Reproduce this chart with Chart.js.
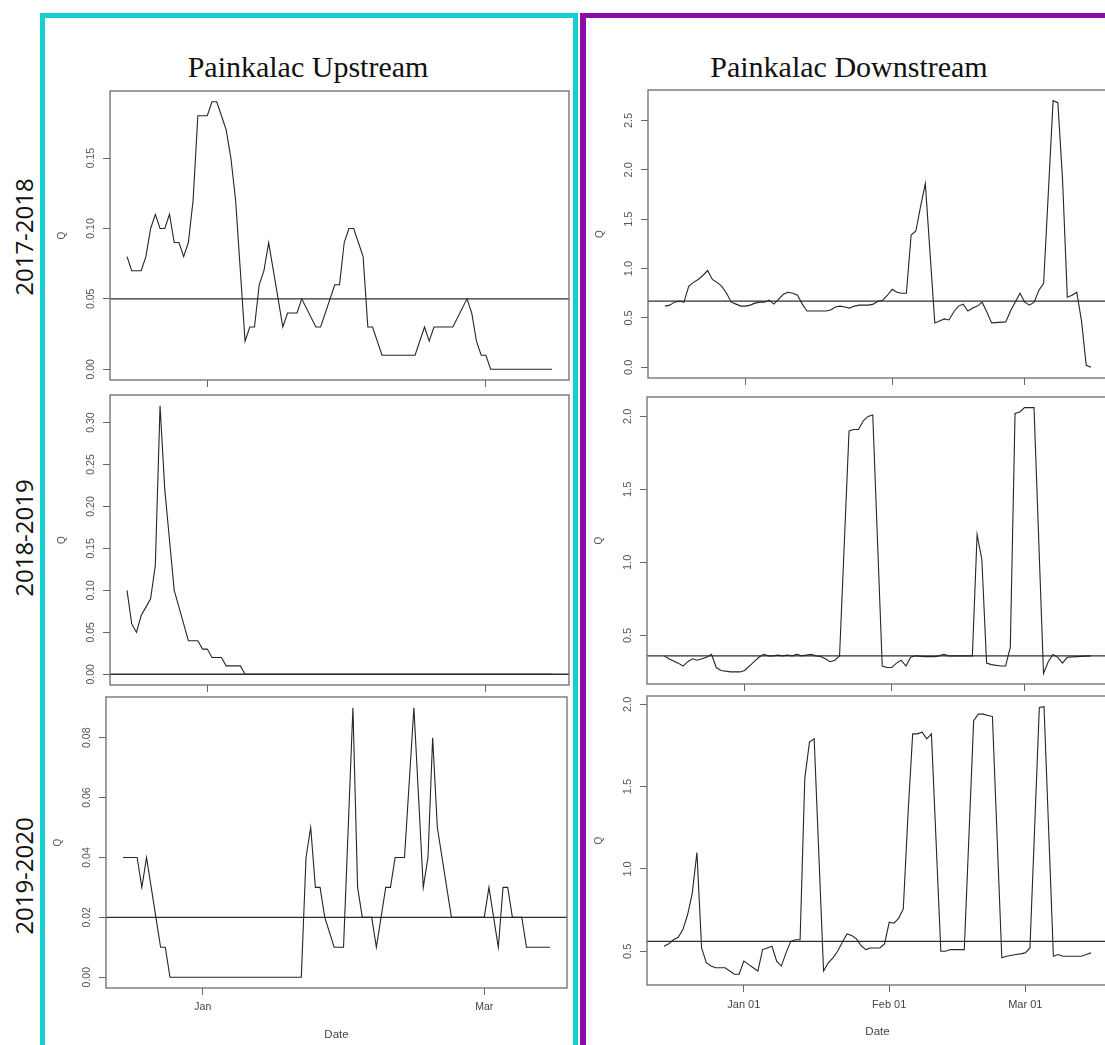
<!DOCTYPE html>
<html>
<head>
<meta charset="utf-8">
<title>Painkalac flow 2017-2020</title>
<script src="https://cdn.jsdelivr.net/npm/chart.js@4.4.1/dist/chart.umd.min.js"></script>
<style>
  html, body { margin: 0; padding: 0; background: #fff; }
  body { width: 1105px; height: 1045px; overflow: hidden; position: relative; }
  .frame { position: absolute; box-sizing: border-box; }
  #frameUp { left: 40px; top: 13px; width: 538px; height: 1100px; border: 5px solid #17cfd0; }
  #frameDown { left: 580px; top: 13px; width: 620px; height: 1100px; border: 6px solid #8b0fa6; border-top-width: 5px; }
  .site { position: absolute; top: 52px; width: 400px; text-align: center;
          font-family: 'Liberation Serif', 'DejaVu Serif', serif; font-size: 30px; line-height: 30px; color: #111; white-space: nowrap; }
  .season { position: absolute; width: 160px; height: 30px; line-height: 30px; text-align: center;
            font-family: 'Open Sans', 'Noto Sans', sans-serif; font-size: 24px; color: #111; transform: rotate(-90deg); }
  canvas { position: absolute; }
</style>
</head>
<body>
<div id="frameUp" class="frame"></div>
<div id="frameDown" class="frame"></div>
<script>
// ---- labels ----
const sites = ['Painkalac Upstream', 'Painkalac Downstream'];
const seasons = ['2017-2018', '2018-2019', '2019-2020'];

// ---- x axis ticks (days counted from 1 January of the season's second year) ----
const upTickLabels = ['Jan', 'Mar'];
const upTickDays = [[0, 59], [0, 59], [0, 60]];
const downTickLabels = ['Jan 01', 'Feb 01', 'Mar 01'];
const downTickDays = [[0, 31, 59], [0, 31, 59], [0, 31, 60]];

// ---- y axis ticks ----
const upYTicks = [
  [0, 0.05, 0.10, 0.15],
  [0, 0.05, 0.10, 0.15, 0.20, 0.25, 0.30],
  [0, 0.02, 0.04, 0.06, 0.08]
];
const downYTicks = [
  [0, 0.5, 1.0, 1.5, 2.0, 2.5],
  [0.5, 1.0, 1.5, 2.0],
  [0.5, 1.0, 1.5, 2.0]
];

// ---- horizontal reference flow (Q) per panel ----
const upThreshold = [0.05, 0.00, 0.02];
const downThreshold = [0.67, 0.36, 0.56];

// ---- discharge Q, upstream ----
const up1718Day = [-17,-16,-14,-13,-12,-11,-10,-9,-8,-7,-6,-5,-4,-3,-2,0,1,2,3,4,5,6,7,8,9,10,11,12,13,14,15,16,17,19,20,23,24,27,28,29,30,31,32,33,34,35,36,37,44,46,47,48,52,55,56,57,58,59,60,73];
const up1718Q = [0.08,0.07,0.07,0.08,0.10,0.11,0.10,0.10,0.11,0.09,0.09,0.08,0.09,0.12,0.18,0.18,0.19,0.19,0.18,0.17,0.15,0.12,0.07,0.02,0.03,0.03,0.06,0.07,0.09,0.07,0.05,0.03,0.04,0.04,0.05,0.03,0.03,0.06,0.06,0.09,0.10,0.10,0.09,0.08,0.03,0.03,0.02,0.01,0.01,0.03,0.02,0.03,0.03,0.05,0.04,0.02,0.01,0.01,0.00,0.00];

const up1819Day = [-17,-16,-15,-14,-13,-12,-11,-10,-9,-8,-7,-6,-5,-4,-2,-1,0,1,3,4,7,8,73];
const up1819Q = [0.10,0.06,0.05,0.07,0.08,0.09,0.13,0.32,0.22,0.16,0.10,0.08,0.06,0.04,0.04,0.03,0.03,0.02,0.02,0.01,0.01,0.00,0.00];

const up1920Day = [-17,-14,-13,-12,-11,-10,-9,-8,-7,21,22,23,24,25,26,28,30,32,33,34,36,37,38,39,40,41,43,45,47,48,49,50,53,60,61,63,64,65,66,68,69,74];
const up1920Q = [0.04,0.04,0.03,0.04,0.03,0.02,0.01,0.01,0.00,0.00,0.04,0.05,0.03,0.03,0.02,0.01,0.01,0.09,0.03,0.02,0.02,0.01,0.02,0.03,0.03,0.04,0.04,0.09,0.03,0.04,0.08,0.05,0.02,0.02,0.03,0.01,0.03,0.03,0.02,0.02,0.01,0.01];

// ---- discharge Q, downstream ----
const down1718Day = [-17,-16,-15,-14,-13,-12,-11,-10,-9,-8,-7,-6,-5,-4,-3,-2,-1,0,1,2,3,4,5,6,7,8,9,10,11,12,13,17,18,19,20,21,22,23,24,26,27,28,29,30,31,32,33,34,35,36,37,38,40,41,42,43,44,45,46,47,48,49,50,51,52,55,56,58,59,60,61,62,63,65,66,67,68,69,70,71,72,73];
const down1718Q = [0.62,0.63,0.66,0.67,0.66,0.82,0.86,0.89,0.93,0.98,0.89,0.86,0.82,0.75,0.66,0.64,0.62,0.62,0.63,0.65,0.66,0.66,0.68,0.64,0.69,0.74,0.76,0.75,0.73,0.64,0.57,0.57,0.58,0.61,0.62,0.61,0.60,0.62,0.63,0.63,0.64,0.67,0.68,0.73,0.79,0.76,0.75,0.75,1.34,1.38,1.63,1.86,0.45,0.47,0.49,0.48,0.56,0.62,0.64,0.57,0.60,0.62,0.66,0.56,0.45,0.46,0.57,0.75,0.66,0.63,0.66,0.78,0.85,2.70,2.68,1.90,0.71,0.73,0.76,0.47,0.02,0.00];

const down1819Day = [-17,-16,-14,-13,-12,-11,-10,-9,-8,-7,-6,-5,-3,-1,0,2,3,4,5,6,7,8,9,10,11,12,13,14,15,16,17,18,19,20,22,23,24,25,26,27,29,30,31,32,33,34,35,36,38,40,41,42,43,48,49,50,51,52,54,55,56,57,58,59,61,63,64,65,66,67,68,70,73];
const down1819Q = [0.36,0.34,0.31,0.29,0.32,0.34,0.33,0.34,0.35,0.37,0.28,0.26,0.25,0.25,0.26,0.32,0.35,0.37,0.36,0.36,0.365,0.36,0.365,0.36,0.37,0.36,0.365,0.37,0.36,0.355,0.34,0.32,0.33,0.36,1.90,1.91,1.91,1.97,2.00,2.01,0.29,0.28,0.28,0.31,0.33,0.29,0.35,0.36,0.355,0.355,0.36,0.37,0.36,0.36,1.19,1.02,0.31,0.30,0.29,0.29,0.42,2.02,2.03,2.06,2.06,0.24,0.32,0.37,0.35,0.31,0.35,0.355,0.36];

const down1920Day = [-17,-16,-15,-14,-13,-12,-11,-10,-9,-8,-7,-6,-4,-3,-2,-1,0,1,2,3,4,5,6,7,8,9,10,11,12,13,14,15,17,18,19,20,21,22,23,24,25,26,27,29,30,31,32,33,34,35,36,37,38,39,40,42,43,44,47,49,50,51,53,55,56,58,59,60,61,63,64,66,67,68,72,73,74];
const down1920Q = [0.53,0.545,0.57,0.585,0.63,0.72,0.85,1.10,0.52,0.43,0.41,0.40,0.40,0.38,0.36,0.36,0.44,0.42,0.40,0.38,0.51,0.52,0.53,0.44,0.41,0.49,0.56,0.57,0.57,1.55,1.77,1.79,0.38,0.43,0.46,0.50,0.555,0.605,0.595,0.575,0.534,0.51,0.52,0.52,0.545,0.676,0.67,0.70,0.757,1.33,1.82,1.82,1.83,1.79,1.82,0.50,0.50,0.51,0.51,1.90,1.94,1.94,1.925,0.46,0.47,0.48,0.484,0.49,0.52,1.98,1.985,0.47,0.48,0.47,0.47,0.48,0.49];

// ---- page layout: plotting box of every panel [left, top, right, bottom] ----
const boxes = {
  up:   [[110, 91, 569, 380], [110, 395, 569, 685], [106, 697, 567, 988]],
  down: [[648, 90, 1108, 378], [647, 397, 1108, 684], [647, 696, 1108, 985]]
};
const siteCentres = [308, 849];
const seasonCentres = [237, 538, 876];
const Y_AXIS_W = 60;   // room left of each box for ticks, labels and "Q"
const PAD = 2;

// headings
sites.forEach((s, i) => {
  const d = document.createElement('div');
  d.className = 'site';
  d.textContent = s;
  d.style.left = (siteCentres[i] - 200) + 'px';
  document.body.appendChild(d);
});
seasons.forEach((s, i) => {
  const d = document.createElement('div');
  d.className = 'season';
  d.textContent = s;
  d.style.left = (24 - 80) + 'px';
  d.style.top = (seasonCentres[i] - 15) + 'px';
  document.body.appendChild(d);
});

// R-style decorations: full box, abline, rotated y labels, axis titles
const rStyle = {
  id: 'rStyle',
  beforeDatasetsDraw(chart, args, o) {
    const { ctx, chartArea: a, scales: { y } } = chart;
    const ty = y.getPixelForValue(o.threshold);
    ctx.save();
    ctx.strokeStyle = '#2f2f2f';
    ctx.lineWidth = 1.3;
    ctx.beginPath();
    ctx.moveTo(a.left, ty);
    ctx.lineTo(a.right, ty);
    ctx.stroke();
    ctx.restore();
  },
  afterDraw(chart, args, o) {
    const { ctx, chartArea: a, scales: { y } } = chart;
    ctx.save();
    ctx.strokeStyle = '#6c6c6c';
    ctx.lineWidth = 1.3;
    ctx.strokeRect(a.left, a.top, a.right - a.left, a.bottom - a.top);

    ctx.fillStyle = '#555';
    ctx.textAlign = 'center';
    ctx.textBaseline = 'middle';
    ctx.font = o.tickFont;
    y.ticks.forEach(t => {
      const py = y.getPixelForValue(t.value);
      ctx.save();
      ctx.translate(a.left - 19, py);
      ctx.rotate(-Math.PI / 2);
      ctx.fillText(t.value.toFixed(o.decimals), 0, 0);
      ctx.restore();
    });

    ctx.font = '10px "Liberation Sans", Arial, sans-serif';
    ctx.save();
    ctx.translate(a.left - 48, (a.top + a.bottom) / 2);
    ctx.rotate(-Math.PI / 2);
    ctx.fillText('Q', 0, 0);
    ctx.restore();

    if (o.showDate) {
      ctx.fillStyle = '#444';
      ctx.font = '11.5px "Liberation Sans", Arial, sans-serif';
      ctx.fillText('Date', (a.left + a.right) / 2, a.bottom + 47);
    }
    ctx.restore();
  }
};

function paddedRange(values) {
  const lo = Math.min(...values), hi = Math.max(...values);
  const p = (hi - lo) * 0.04;
  return [lo - p, hi + p];
}

function drawPanel(box, days, q, threshold, xTicks, xLabels, yTicks, decimals, showX, tickFontPx) {
  const [L, T, R, B] = box;
  const xAxisH = showX ? 1045 - B : 10;
  const cv = document.createElement('canvas');
  const w = (R - L) + Y_AXIS_W + PAD;
  const h = (B - T) + PAD + xAxisH;
  cv.width = w; cv.height = h;
  cv.style.left = (L - Y_AXIS_W) + 'px';
  cv.style.top = (T - PAD) + 'px';
  cv.style.width = w + 'px'; cv.style.height = h + 'px';
  document.body.appendChild(cv);

  const [xMin, xMax] = paddedRange(days);
  const [yMin, yMax] = paddedRange(q);
  const tickFont = tickFontPx + 'px "Liberation Sans", Arial, sans-serif';

  new Chart(cv, {
    type: 'line',
    data: {
      datasets: [{
        data: days.map((d, i) => ({ x: d, y: q[i] })),
        borderColor: '#262626',
        borderWidth: 1.1,
        pointRadius: 0,
        tension: 0,
        fill: false
      }]
    },
    options: {
      responsive: false,
      animation: false,
      devicePixelRatio: 1,
      events: [],
      layout: { padding: { top: PAD, right: PAD, left: 0, bottom: 0 } },
      plugins: {
        legend: { display: false },
        tooltip: { enabled: false },
        rStyle: { threshold, decimals, tickFont, showDate: showX }
      },
      scales: {
        x: {
          type: 'linear',
          min: xMin, max: xMax,
          afterBuildTicks: s => { s.ticks = xTicks.map(v => ({ value: v })); },
          afterFit: s => { s.height = xAxisH; },
          ticks: {
            display: showX,
            autoSkip: false, maxRotation: 0, minRotation: 0,
            padding: 6,
            color: '#444',
            font: { family: '"Liberation Sans", Arial, sans-serif', size: tickFontPx },
            callback: v => { const i = xTicks.indexOf(v); return i >= 0 ? xLabels[i] : ''; }
          },
          grid: { drawOnChartArea: false, drawTicks: true, tickLength: 7, color: '#666', lineWidth: 1 },
          border: { display: false }
        },
        y: {
          type: 'linear',
          min: yMin, max: yMax,
          afterBuildTicks: s => { s.ticks = yTicks.map(v => ({ value: v })); },
          afterFit: s => { s.width = Y_AXIS_W; },
          ticks: { display: false },
          grid: { drawOnChartArea: false, drawTicks: true, tickLength: 7, color: '#666', lineWidth: 1 },
          border: { display: false }
        }
      }
    },
    plugins: [rStyle]
  });
}

const upData = [[up1718Day, up1718Q], [up1819Day, up1819Q], [up1920Day, up1920Q]];
const downData = [[down1718Day, down1718Q], [down1819Day, down1819Q], [down1920Day, down1920Q]];

for (let r = 0; r < 3; r++) {
  const last = r === 2;
  drawPanel(boxes.up[r], upData[r][0], upData[r][1], upThreshold[r],
            upTickDays[r], upTickLabels, upYTicks[r], 2, last, 10.5);
  drawPanel(boxes.down[r], downData[r][0], downData[r][1], downThreshold[r],
            downTickDays[r], downTickLabels, downYTicks[r], 1, last, 11);
}
</script>
</body>
</html>
